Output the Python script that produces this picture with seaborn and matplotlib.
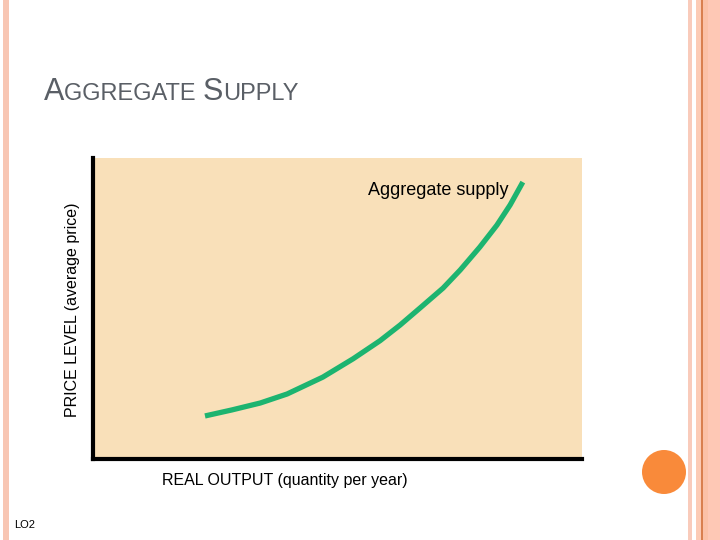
import numpy as np
import pandas as pd
import matplotlib
matplotlib.use("Agg")
import matplotlib.pyplot as plt
import matplotlib.patches as mpatches
import seaborn as sns

# data (axes run 0..100 on both sides)
real_output = [22.9, 28.4, 34.2, 39.7, 47.0, 53.2, 58.7, 62.8, 66.9, 71.6, 75.1, 79.1, 82.6, 85.3, 87.9]
price_level = [14.3, 16.3, 18.6, 21.6, 27.2, 33.3, 39.3, 44.5, 50.2, 56.8, 62.8, 70.4, 77.7, 84.4, 92.0]

title_parts = [("A", 22), ("GGREGATE ", 17), ("S", 22), ("UPPLY", 17)]
x_label = "REAL OUTPUT (quantity per year)"
y_label = "PRICE LEVEL (average price)"
curve_label = "Aggregate supply"
slide_tag = "LO2"

sns.set_theme(style="white")
plt.rcParams['font.family'] = ['Liberation Sans', 'DejaVu Sans']

df = pd.DataFrame({"output": real_output, "price": price_level})

fig = plt.figure(figsize=(7.2, 5.4), dpi=100)
fig.patch.set_facecolor("white")

# slide decoration (stripes and dot)
def vstripe(x0, x1, color):
    fig.add_artist(mpatches.Rectangle((x0 / 720, 0), (x1 - x0) / 720, 1,
                                      transform=fig.transFigure, color=color, lw=0, zorder=0))

vstripe(3, 9, "#F8C6B3")
vstripe(688, 692, "#F9CBBB")
vstripe(696, 701, "#FCCBB5")
vstripe(701, 703, "#D9804F")
vstripe(703, 708, "#FBC1A7")
vstripe(708, 720, "#FEC8B5")
fig.add_artist(mpatches.Circle((6.64, 0.68), 0.22, transform=fig.dpi_scale_trans,
                               color="#F98A3A", lw=0))

ax = fig.add_axes([93 / 720, 81 / 540, 489 / 720, 301 / 540])
ax.set_facecolor("#F9E0B9")
sns.lineplot(data=df, x="output", y="price", ax=ax, color="#1DB470",
             linewidth=3.8, solid_capstyle="butt", solid_joinstyle="round", sort=False)
ax.set_xlim(0, 100)
ax.set_ylim(0, 100)
ax.set_xticks([])
ax.set_yticks([])
ax.set_xlabel("")
ax.set_ylabel("")
for side in ["top", "right"]:
    ax.spines[side].set_visible(False)
for side in ["left", "bottom"]:
    ax.spines[side].set_color("black")
    ax.spines[side].set_linewidth(3)

ax.text((438 - 93) / 489 * 100, (459 - 195) / 301 * 100, curve_label,
        ha="center", va="baseline", fontsize=13, color="black")

# axis labels placed as on the slide
fig.text(285 / 720, 1 - 480 / 540, x_label, ha="center", va="center",
         fontsize=11.5, color="black")
fig.text(72 / 720, 1 - 310 / 540, y_label, ha="center", va="center",
         rotation=90, fontsize=11.5, color="black")
fig.text(14 / 720, 1 - 528 / 540, slide_tag, ha="left", va="baseline",
         fontsize=8, color="black")

# small-caps title, drawn piece by piece
renderer = fig.canvas.get_renderer()
x_px = 44
for txt, size in title_parts:
    t = fig.text(x_px / 720, 1 - 100 / 540, txt, ha="left", va="baseline",
                 fontsize=size, color="#5A5F66")
    x_px += t.get_window_extent(renderer).width

fig.savefig("out.png", dpi=100)
